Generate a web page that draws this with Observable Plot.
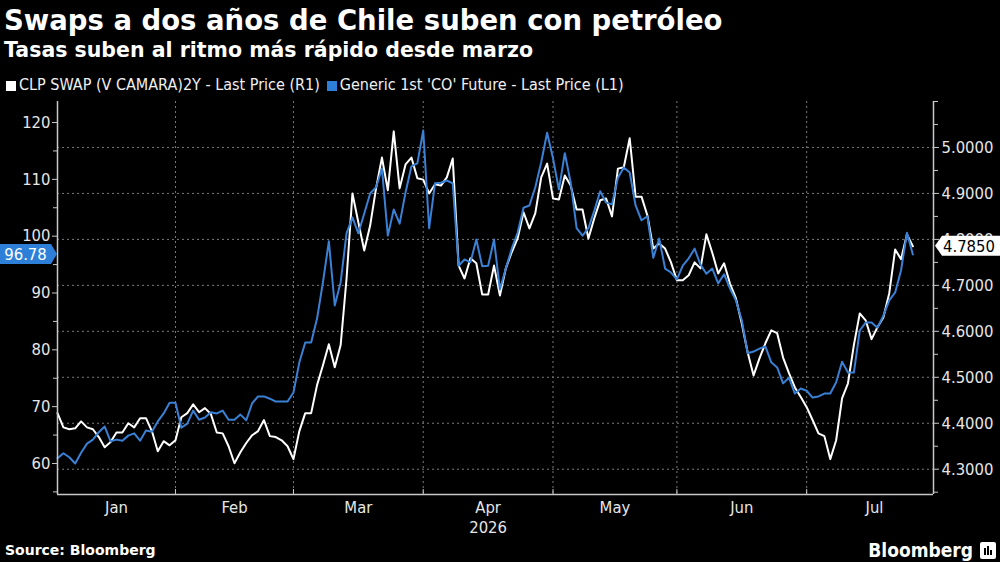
<!DOCTYPE html>
<html>
<head>
<meta charset="utf-8">
<script src="https://cdn.jsdelivr.net/npm/d3@7"></script>
<script src="https://cdn.jsdelivr.net/npm/@observablehq/plot@0.6"></script>
<style>
  html, body { margin: 0; padding: 0; background: #000; }
  body { width: 1000px; height: 562px; position: relative; overflow: hidden; color: #fff;
         font-family: "DejaVu Sans Condensed", "Liberation Sans Narrow", "DejaVu Sans", sans-serif; }
  #title { position: absolute; left: 4px; top: 4px; font-family: "DejaVu Sans", sans-serif; font-weight: bold; font-size: 27.5px; line-height: 32px; white-space: nowrap; }
  #subtitle { position: absolute; left: 4px; top: 38px; font-family: "DejaVu Sans", sans-serif; font-weight: bold; font-size: 20.5px; line-height: 24px; white-space: nowrap; }
  #legend { position: absolute; left: 6px; top: 75px; font-size: 16px; line-height: 20px; white-space: nowrap; color: #f0f0f0; }
  #legend span.item { display: inline-block; margin-right: 7px; }
  #legend span.sw { display: inline-block; width: 10px; height: 10px; margin-right: 3px; vertical-align: -1px; }
  #chart { position: absolute; left: 0; top: 92px; }
  #source { position: absolute; left: 5px; top: 541px; font-family: "DejaVu Sans", sans-serif; font-weight: bold; font-size: 14px; line-height: 18px; }
  #brand { position: absolute; right: 27px; top: 538px; font-weight: bold; font-size: 19px; line-height: 24px; }
  #logo { position: absolute; left: 980px; top: 542px; }
</style>
</head>
<body>
<div id="title"></div>
<div id="subtitle"></div>
<div id="legend"></div>
<div id="chart"></div>
<div id="source"></div>
<div id="brand"></div>
<svg id="logo" width="16" height="17" viewBox="0 0 16 17">
  <rect x="0" y="0" width="16" height="17" rx="2" fill="#fff"/>
  <rect x="4" y="6" width="2" height="7" fill="#000"/>
  <rect x="7" y="4" width="2" height="9" fill="#000"/>
  <rect x="10" y="8" width="2" height="5" fill="#000"/>
</svg>
<script>
// ---------------- data ----------------
const titleText = "Swaps a dos años de Chile suben con petróleo";
const subtitleText = "Tasas suben al ritmo más rápido desde marzo";
const seriesNames = ["CLP SWAP (V CAMARA)2Y - Last Price (R1)", "Generic 1st 'CO' Future - Last Price (L1)"];
const sourceText = "Source: Bloomberg";
const brandText = "Bloomberg";

// first trading day of the series (weekday series)
const firstDay = "2026-01-05";
const lastCalendarDay = "2026-08-04";

// CLP 2Y swap rate (right axis), one value per trading day
const swapValues = [
  4.422, 4.391, 4.387, 4.389, 4.404, 4.391, 4.387, 4.370, 4.348, 4.359,
  4.380, 4.380, 4.400, 4.391, 4.411, 4.411, 4.383, 4.339, 4.361, 4.352,
  4.363, 4.413, 4.422, 4.441, 4.424, 4.433, 4.420, 4.380, 4.378, 4.350,
  4.313, 4.337, 4.357, 4.374, 4.383, 4.407, 4.372, 4.370, 4.363, 4.350,
  4.322, 4.383, 4.422, 4.422, 4.483, 4.526, 4.572, 4.522, 4.570, 4.715,
  4.900, 4.837, 4.776, 4.830, 4.911, 4.978, 4.907, 5.035, 4.911, 4.963,
  4.978, 4.933, 4.930, 4.900, 4.920, 4.917, 4.935, 4.976, 4.743, 4.715,
  4.759, 4.748, 4.680, 4.680, 4.743, 4.678, 4.737, 4.772, 4.802, 4.859,
  4.824, 4.857, 4.935, 4.965, 4.889, 4.887, 4.939, 4.917, 4.865, 4.865,
  4.802, 4.846, 4.885, 4.889, 4.850, 4.954, 4.957, 5.020, 4.893, 4.893,
  4.852, 4.780, 4.791, 4.780, 4.750, 4.711, 4.711, 4.722, 4.750, 4.737,
  4.811, 4.771, 4.726, 4.748, 4.704, 4.672, 4.617, 4.554, 4.504, 4.541,
  4.574, 4.602, 4.596, 4.543, 4.509, 4.478, 4.457, 4.435, 4.407, 4.378,
  4.372, 4.322, 4.363, 4.454, 4.487, 4.570, 4.639, 4.624, 4.583, 4.609,
  4.630, 4.683, 4.778, 4.757, 4.811, 4.785
];

// Brent generic 1st future (left axis), one value per trading day
const oilValues = [
  60.9, 61.8, 61.1, 60.0, 61.9, 63.5, 64.2, 65.5, 66.5, 63.9,
  64.2, 64.0, 64.9, 65.3, 64.0, 65.8, 65.6, 67.4, 68.8, 70.7,
  70.7, 66.3, 67.0, 69.3, 67.7, 68.1, 69.0, 68.8, 69.3, 67.7,
  67.7, 68.6, 67.6, 70.6, 71.8, 71.8, 71.4, 70.9, 70.9, 70.9,
  72.5, 77.8, 81.3, 81.3, 85.5, 91.9, 99.1, 87.8, 91.9, 100.5,
  103.3, 100.5, 104.0, 107.5, 108.6, 111.9, 100.1, 104.7, 102.2, 107.7,
  112.3, 112.8, 118.6, 101.4, 109.3, 109.4, 109.8, 109.3, 94.8, 95.9,
  95.4, 99.4, 94.7, 94.8, 99.4, 90.6, 94.3, 97.8, 100.6, 105.0,
  105.4, 108.6, 113.0, 118.2, 113.7, 108.2, 114.6, 109.4, 101.4, 100.1,
  101.4, 104.5, 107.9, 105.9, 105.6, 110.3, 112.1, 111.2, 105.4, 102.8,
  103.5, 96.2, 99.6, 94.3, 93.6, 92.4, 94.8, 96.1, 97.8, 95.0,
  93.4, 94.3, 91.7, 93.3, 90.8, 88.7, 85.2, 79.4, 79.7, 80.2,
  80.6, 77.8, 76.9, 74.1, 75.1, 72.3, 73.2, 72.8, 71.6, 71.8,
  72.3, 72.3, 74.3, 77.9, 76.0, 76.0, 83.4, 84.8, 84.8, 83.9,
  86.0, 88.7, 90.1, 94.0, 100.6, 96.78
];

const monthNames = ["Jan", "Feb", "Mar", "Apr", "May", "Jun", "Jul"];
const yearLabel = "2026";
const rightTicks = [4.3, 4.4, 4.5, 4.6, 4.7, 4.8, 4.9, 5.0];
const rightMinorTicks = [4.25, 4.35, 4.45, 4.55, 4.65, 4.75, 4.85, 4.95, 5.05, 5.1];
const leftTicks = [60, 70, 80, 90, 100, 110, 120];
const leftMinorTicks = [55, 65, 75, 85, 95, 105, 115];

// axis domains
const rightDomain = [4.245, 5.1];
const leftDomain = [54.54, 123.7];
const xEndIndex = 148.5;

// ---------------- build ----------------
const WHITE = "#ffffff";
const BLUE = "#3a80d4";
const BLUE_BOX = "#2d7fd8";
const GRID = "#7a7a7a";
const AXIS = "#c8c8c8";
const FONT = '"DejaVu Sans Condensed", "Liberation Sans Narrow", "DejaVu Sans", sans-serif';
const FS = 16.5;

document.getElementById("title").textContent = titleText;
document.getElementById("subtitle").textContent = subtitleText;
document.getElementById("source").textContent = sourceText;
document.getElementById("brand").textContent = brandText;
document.getElementById("legend").innerHTML =
  `<span class="item"><span class="sw" style="background:${WHITE}"></span>${seriesNames[0]}</span>` +
  `<span class="item"><span class="sw" style="background:${BLUE_BOX}"></span>${seriesNames[1]}</span>`;

// trading calendar (weekdays)
const days = d3.utcDay.range(new Date(firstDay + "T00:00Z"), new Date(lastCalendarDay + "T00:00Z"))
  .filter(d => d.getUTCDay() !== 0 && d.getUTCDay() !== 6);

const swapData = swapValues.map((v, i) => ({i, date: days[i], v}));
const oilData = oilValues.map((v, i) => ({i, date: days[i], v}));

// index of first trading day of each month (Jan..Aug)
const monthStarts = [];
days.forEach((d, i) => {
  if (i === 0 || d.getUTCMonth() !== days[i - 1].getUTCMonth()) monthStarts.push(i);
});
const monthLabels = monthNames.map((name, k) => ({name, mid: (monthStarts[k] + monthStarts[k + 1]) / 2}));
const gridX = monthStarts.slice(1, monthNames.length);

// map left-axis (oil) values onto the right-axis (swap) scale
const oilToY = o => rightDomain[0] + (o - leftDomain[0]) * (rightDomain[1] - rightDomain[0]) / (leftDomain[1] - leftDomain[0]);
const yToOil = y => leftDomain[0] + (y - rightDomain[0]) * (leftDomain[1] - leftDomain[0]) / (rightDomain[1] - rightDomain[0]);

const plot = Plot.plot({
  width: 1000,
  height: 450,
  marginTop: 9,
  marginBottom: 48,
  marginLeft: 57,
  marginRight: 67,
  style: {background: "transparent", color: "#e0e0e0", fontFamily: FONT, fontSize: FS + "px", overflow: "visible"},
  x: {domain: [0, xEndIndex], axis: null, label: null},
  y: {domain: rightDomain, axis: null, label: null},
  marks: [
    Plot.ruleY(rightTicks, {stroke: GRID, strokeDasharray: "2,3", strokeWidth: 1}),
    Plot.ruleX(gridX, {stroke: GRID, strokeDasharray: "2,3", strokeWidth: 1}),
    Plot.line(swapData, {x: "i", y: "v", stroke: WHITE, strokeWidth: 2}),
    Plot.line(oilData, {x: "i", y: d => oilToY(d.v), stroke: BLUE, strokeWidth: 2}),
    // axis lines
    Plot.ruleX([0, xEndIndex], {stroke: AXIS, strokeWidth: 1.5}),
    Plot.ruleY([rightDomain[0]], {stroke: AXIS, strokeWidth: 1.5}),
    // right axis
    Plot.axisY(rightTicks, {anchor: "right", label: null, tickSize: 5, tickPadding: 3, stroke: AXIS, fill: "#e6e6e6",
      fontSize: FS, tickFormat: d => d.toFixed(4)}),
    Plot.axisY(rightMinorTicks, {anchor: "right", label: null, tickSize: 4, stroke: AXIS, tickFormat: () => ""}),
    // left axis
    Plot.axisY(leftTicks.map(oilToY), {anchor: "left", label: null, tickSize: 5, tickPadding: 2, stroke: AXIS, fill: "#e6e6e6",
      fontSize: FS, tickFormat: d => d3.format(".0f")(yToOil(d))}),
    Plot.axisY(leftMinorTicks.map(oilToY), {anchor: "left", label: null, tickSize: 4, stroke: AXIS, tickFormat: () => ""}),
    // bottom axis
    Plot.axisX(gridX, {anchor: "bottom", label: null, tickSize: 5, dy: -5, stroke: AXIS, tickFormat: () => ""}),
    Plot.text(monthLabels, {x: "mid", text: "name", frameAnchor: "bottom", dy: 7, lineAnchor: "top", fill: "#e6e6e6", fontSize: FS}),
    Plot.text([{x: monthLabels[3].mid, t: yearLabel}], {x: "x", text: "t", frameAnchor: "bottom", dy: 27, lineAnchor: "top", fill: "#e6e6e6", fontSize: FS})
  ]
});

document.getElementById("chart").appendChild(plot);

// last-value tags on both axes, placed with the plot's own scales
const svg = d3.select(plot);
const ys = plot.scale("y");
const xr = plot.scale("x").range;
const lastOil = oilValues[oilValues.length - 1];
const lastSwap = swapValues[swapValues.length - 1];

const yb = ys.apply(oilToY(lastOil));
const gb = svg.append("g");
gb.append("path")
  .attr("d", `M0,${yb - 10}H${xr[0] - 6}L${xr[0]},${yb}L${xr[0] - 6},${yb + 10}H0Z`)
  .attr("fill", BLUE_BOX);
gb.append("text").attr("x", (xr[0] - 6) / 2).attr("y", yb).attr("dy", "0.35em")
  .attr("text-anchor", "middle").attr("fill", "#fff").attr("font-size", FS).attr("font-family", FONT)
  .text(d3.format(".2f")(lastOil));

const yw = ys.apply(lastSwap);
const gw = svg.append("g");
gw.append("path")
  .attr("d", `M${xr[1] + 2},${yw}L${xr[1] + 9},${yw - 10}H1000V${yw + 10}H${xr[1] + 9}Z`)
  .attr("fill", WHITE);
gw.append("text").attr("x", xr[1] + 10).attr("y", yw).attr("dy", "0.35em")
  .attr("text-anchor", "start").attr("fill", "#000").attr("font-size", FS).attr("font-family", FONT)
  .text(d3.format(".4f")(lastSwap));
</script>
</body>
</html>
